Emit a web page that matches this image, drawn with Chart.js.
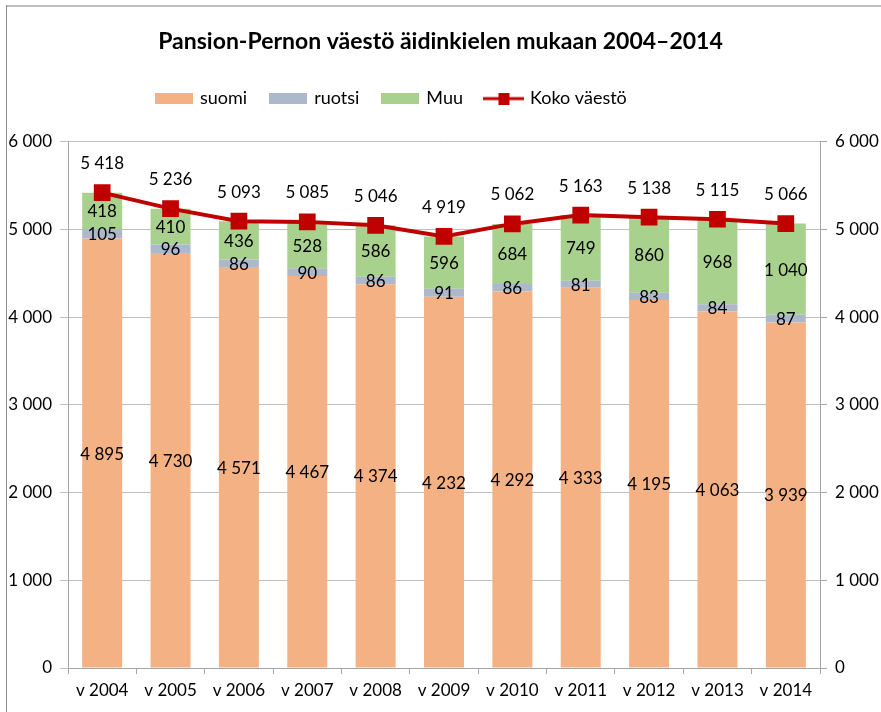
<!DOCTYPE html>
<html>
<head>
<meta charset="utf-8">
<style>
  html, body { margin: 0; padding: 0; background: #fff; }
  #wrap { width: 881px; height: 712px; }
</style>
</head>
<body>
<div id="wrap"><canvas id="chart" width="881" height="712"></canvas></div>
<script src="https://cdn.jsdelivr.net/npm/chart.js@4.4.0/dist/chart.umd.min.js"></script>
<script>
// Vuodet ja sarjat
const vuodet = ['v 2004', 'v 2005', 'v 2006', 'v 2007', 'v 2008', 'v 2009', 'v 2010', 'v 2011', 'v 2012', 'v 2013', 'v 2014'];
const suomi = [4895, 4730, 4571, 4467, 4374, 4232, 4292, 4333, 4195, 4063, 3939];
const ruotsi = [105, 96, 86, 90, 86, 91, 86, 81, 83, 84, 87];
const muu = [418, 410, 436, 528, 586, 596, 684, 749, 860, 968, 1040];
const koko = [5418, 5236, 5093, 5085, 5046, 4919, 5062, 5163, 5138, 5115, 5066];

const FONT = "Lato, 'Open Sans', sans-serif";
Chart.defaults.font.family = FONT;
Chart.defaults.color = '#000';

// tuhaterotin välilyönnillä
function fmt(n) {
  return String(n).replace(/\B(?=(\d{3})+(?!\d))/g, ' ');
}

// legendan kuvakkeet
function boxIcon(color) {
  const c = document.createElement('canvas');
  c.width = 38; c.height = 11;
  const g = c.getContext('2d');
  g.fillStyle = color;
  g.fillRect(0, 0, 38, 11);
  return c;
}
function lineIcon(color) {
  const c = document.createElement('canvas');
  c.width = 41; c.height = 12;
  const g = c.getContext('2d');
  g.fillStyle = color;
  g.fillRect(0, 4.5, 41, 3);
  g.fillRect(15, 0, 11, 12);
  return c;
}

// kehys
const kehys = {
  id: 'kehys',
  beforeDraw(chart) {
    const ctx = chart.ctx;
    ctx.save();
    ctx.fillStyle = '#fff';
    ctx.fillRect(0, 0, chart.width, chart.height);
    ctx.fillStyle = '#BFBFBF';
    ctx.fillRect(6, 5, chart.width, 2);
    ctx.fillStyle = '#8C8C8C';
    ctx.fillRect(6, 5, 1, chart.height);
    ctx.restore();
  }
};

// legenda hieman vasemmalle, kuten alkuperäisessä
const legendaSiirto = {
  id: 'legendaSiirto',
  afterLayout(chart) {
    if (chart.legend) chart.legend.left += 133;
  }
};

// arvojen tekstit
const arvot = {
  id: 'arvot',
  afterDatasetsDraw(chart) {
    const ctx = chart.ctx;
    ctx.save();
    ctx.font = '17px ' + FONT;
    ctx.fillStyle = '#000';
    ctx.textAlign = 'center';
    ctx.textBaseline = 'middle';
    chart.data.datasets.forEach((ds, i) => {
      const meta = chart.getDatasetMeta(i);
      meta.data.forEach((el, j) => {
        const txt = fmt(ds.data[j]);
        if (ds.type === 'line') {
          ctx.fillText(txt, el.x, el.y - 29);
        } else {
          ctx.fillText(txt, el.x, (el.y + el.base) / 2 + 1);
        }
      });
    });
    ctx.restore();
  }
};

const ctx = document.getElementById('chart').getContext('2d');
new Chart(ctx, {
  data: {
    labels: vuodet,
    datasets: [
      { type: 'bar', label: 'suomi', data: suomi, backgroundColor: '#F4B183', stack: 's', yAxisID: 'y', order: 2 },
      { type: 'bar', label: 'ruotsi', data: ruotsi, backgroundColor: '#ADB9CA', stack: 's', yAxisID: 'y', order: 2 },
      { type: 'bar', label: 'Muu', data: muu, backgroundColor: '#A9D18E', stack: 's', yAxisID: 'y', order: 2 },
      {
        type: 'line', label: 'Koko väestö', data: koko, yAxisID: 'y2', order: 1,
        borderColor: '#C00000', backgroundColor: '#C00000', borderWidth: 4,
        pointStyle: 'rect', pointRadius: 9, pointHoverRadius: 9, tension: 0
      }
    ]
  },
  options: {
    responsive: false,
    animation: false,
    layout: { padding: 0 },
    datasets: { bar: { barPercentage: 0.585, categoryPercentage: 1 } },
    plugins: {
      tooltip: { enabled: false },
      title: {
        display: true,
        text: 'Pansion-Pernon väestö äidinkielen mukaan 2004–2014',
        font: { size: 23, weight: 'bold' },
        color: '#000',
        padding: { top: 28, bottom: 10 }
      },
      // tyhjä väli legendan ja kuvaajan välissä
      subtitle: {
        display: true,
        text: '',
        weight: 500,
        font: { size: 10 },
        padding: { top: 6, bottom: 6 }
      },
      legend: {
        position: 'top',
        align: 'start',
        labels: {
          usePointStyle: true,
          pointStyleWidth: 34,
          padding: 24,
          font: { size: 18 },
          color: '#000',
          generateLabels(chart) {
            return chart.data.datasets.map((ds, i) => ({
              text: ds.label,
              datasetIndex: i,
              pointStyle: ds.type === 'line' ? lineIcon(ds.borderColor) : boxIcon(ds.backgroundColor),
              fillStyle: ds.backgroundColor,
              strokeStyle: ds.backgroundColor,
              lineWidth: 0,
              fontColor: '#000'
            }));
          }
        }
      }
    },
    scales: {
      x: {
        stacked: true,
        grid: { drawOnChartArea: false, offset: true, tickLength: 6, color: '#A6A6A6' },
        border: { color: '#A6A6A6' },
        ticks: { font: { size: 17 }, padding: 6, maxRotation: 0 },
        afterFit(scale) { scale.height = 44; }
      },
      y: {
        stacked: true,
        position: 'left',
        min: 0, max: 6000,
        grid: { color: '#BFBFBF', tickLength: 8 },
        border: { color: '#A6A6A6' },
        ticks: { stepSize: 1000, font: { size: 17 }, padding: 8, callback: v => fmt(v) },
        afterFit(scale) { scale.width = 68; }
      },
      y2: {
        position: 'right',
        min: 0, max: 6000,
        grid: { drawOnChartArea: false, color: '#A6A6A6', tickLength: 7 },
        border: { color: '#A6A6A6' },
        ticks: { stepSize: 1000, font: { size: 17 }, padding: 8, callback: v => fmt(v) },
        afterFit(scale) { scale.width = 61; }
      }
    }
  },
  plugins: [kehys, legendaSiirto, arvot]
});
</script>
</body>
</html>
